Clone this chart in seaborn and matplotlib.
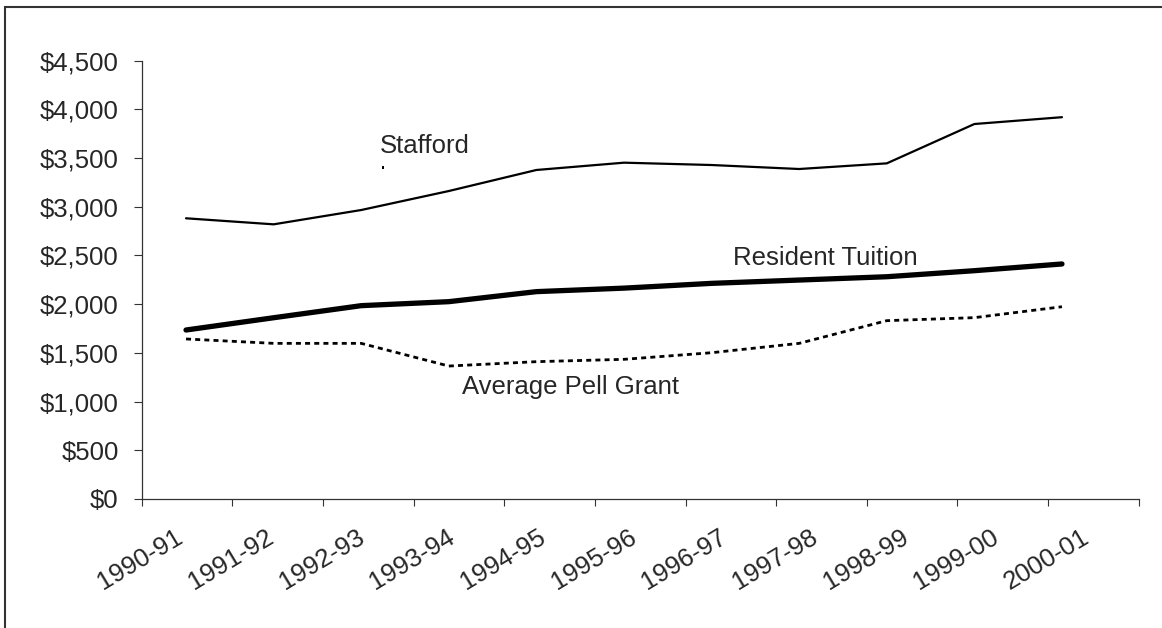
import numpy as np
import pandas as pd
import matplotlib
matplotlib.use("Agg")
import matplotlib.pyplot as plt
import seaborn as sns
from matplotlib.ticker import FuncFormatter
from matplotlib.patches import Rectangle

years = ["1990-91", "1991-92", "1992-93", "1993-94", "1994-95", "1995-96",
         "1996-97", "1997-98", "1998-99", "1999-00", "2000-01"]
stafford = [2882, 2820, 2967, 3162, 3378, 3453, 3429, 3388, 3446, 3850, 3920]
tuition = [1735, 1861, 1985, 2026, 2129, 2165, 2214, 2248, 2282, 2344, 2413]
pell = [1643, 1598, 1598, 1365, 1410, 1434, 1502, 1598, 1831, 1862, 1974]

sns.set_theme(style="white")
plt.rcParams["font.family"] = ["Liberation Sans", "DejaVu Sans"]

fig = plt.figure(figsize=(11.62, 6.28), dpi=100)
ax = fig.add_axes([141.7 / 1162, 1 - 499 / 628, (1138.7 - 141.7) / 1162, (499 - 60.7) / 628])

df = pd.DataFrame({"x": np.arange(len(years)), "Stafford": stafford,
                   "Resident Tuition": tuition, "Average Pell Grant": pell})

sns.lineplot(data=df, x="x", y="Stafford", ax=ax, color="black", lw=1.6)
sns.lineplot(data=df, x="x", y="Resident Tuition", ax=ax, color="black", lw=3.8,
             solid_capstyle="round")
sns.lineplot(data=df, x="x", y="Average Pell Grant", ax=ax, color="black", lw=2.0,
             dashes=False, linestyle=(0, (1.8, 1.5)), dash_capstyle="butt")

xlo, xhi = -0.506, 10.876
ax.set_xlim(xlo, xhi)
ax.set_ylim(0, 4500)

bounds = np.linspace(xlo, xhi, len(years) + 1)
centers = (bounds[:-1] + bounds[1:]) / 2 - 0.068
ax.set_xticks(bounds, minor=True)
ax.set_xticks(centers)
ax.set_xticklabels(years, rotation=31, ha="right", va="center",
                   rotation_mode="anchor", fontsize=18.5)
ax.tick_params(axis="x", which="major", length=0, pad=26)
ax.tick_params(axis="x", which="minor", length=5, width=0.8, direction="out",
               color="#333333", bottom=True)

ax.set_yticks(np.arange(0, 4501, 500))
ax.yaxis.set_major_formatter(FuncFormatter(lambda v, p: f"${v:,.0f}"))
ax.tick_params(axis="y", length=6, width=0.8, direction="out", color="#333333",
               pad=10.5, labelsize=18.5, left=True)

ax.set_xlabel("")
ax.set_ylabel("")
for s in ["top", "right"]:
    ax.spines[s].set_visible(False)
for s in ["left", "bottom"]:
    ax.spines[s].set_color("#333333")
    ax.spines[s].set_linewidth(0.9)
ax.grid(False)

def px2x(px):
    return (px - 186) / 87.6

def py2y(py):
    return (499 - py) / 0.0974

ax.text(px2x(380), py2y(153), "Stafford", fontsize=18.5, ha="left", va="baseline")
ax.text(px2x(733), py2y(265), "Resident Tuition", fontsize=18.5, ha="left", va="baseline")
ax.text(px2x(461.7), py2y(394), "Average Pell Grant", fontsize=18.5, ha="left", va="baseline")

# small stray leader dot under the Stafford label
fig.patches.append(Rectangle((382 / 1162, 1 - 168.5 / 628), 2.2 / 1162, 2.2 / 628,
                             transform=fig.transFigure, facecolor="black",
                             edgecolor="none"))

fig.patches.append(Rectangle((4.5 / 1162, -0.1), 1.2, 1.1 - 7.0 / 628,
                             transform=fig.transFigure, fill=False,
                             edgecolor="#333333", lw=1.5))

fig.savefig("out.png", dpi=100, facecolor="white")
